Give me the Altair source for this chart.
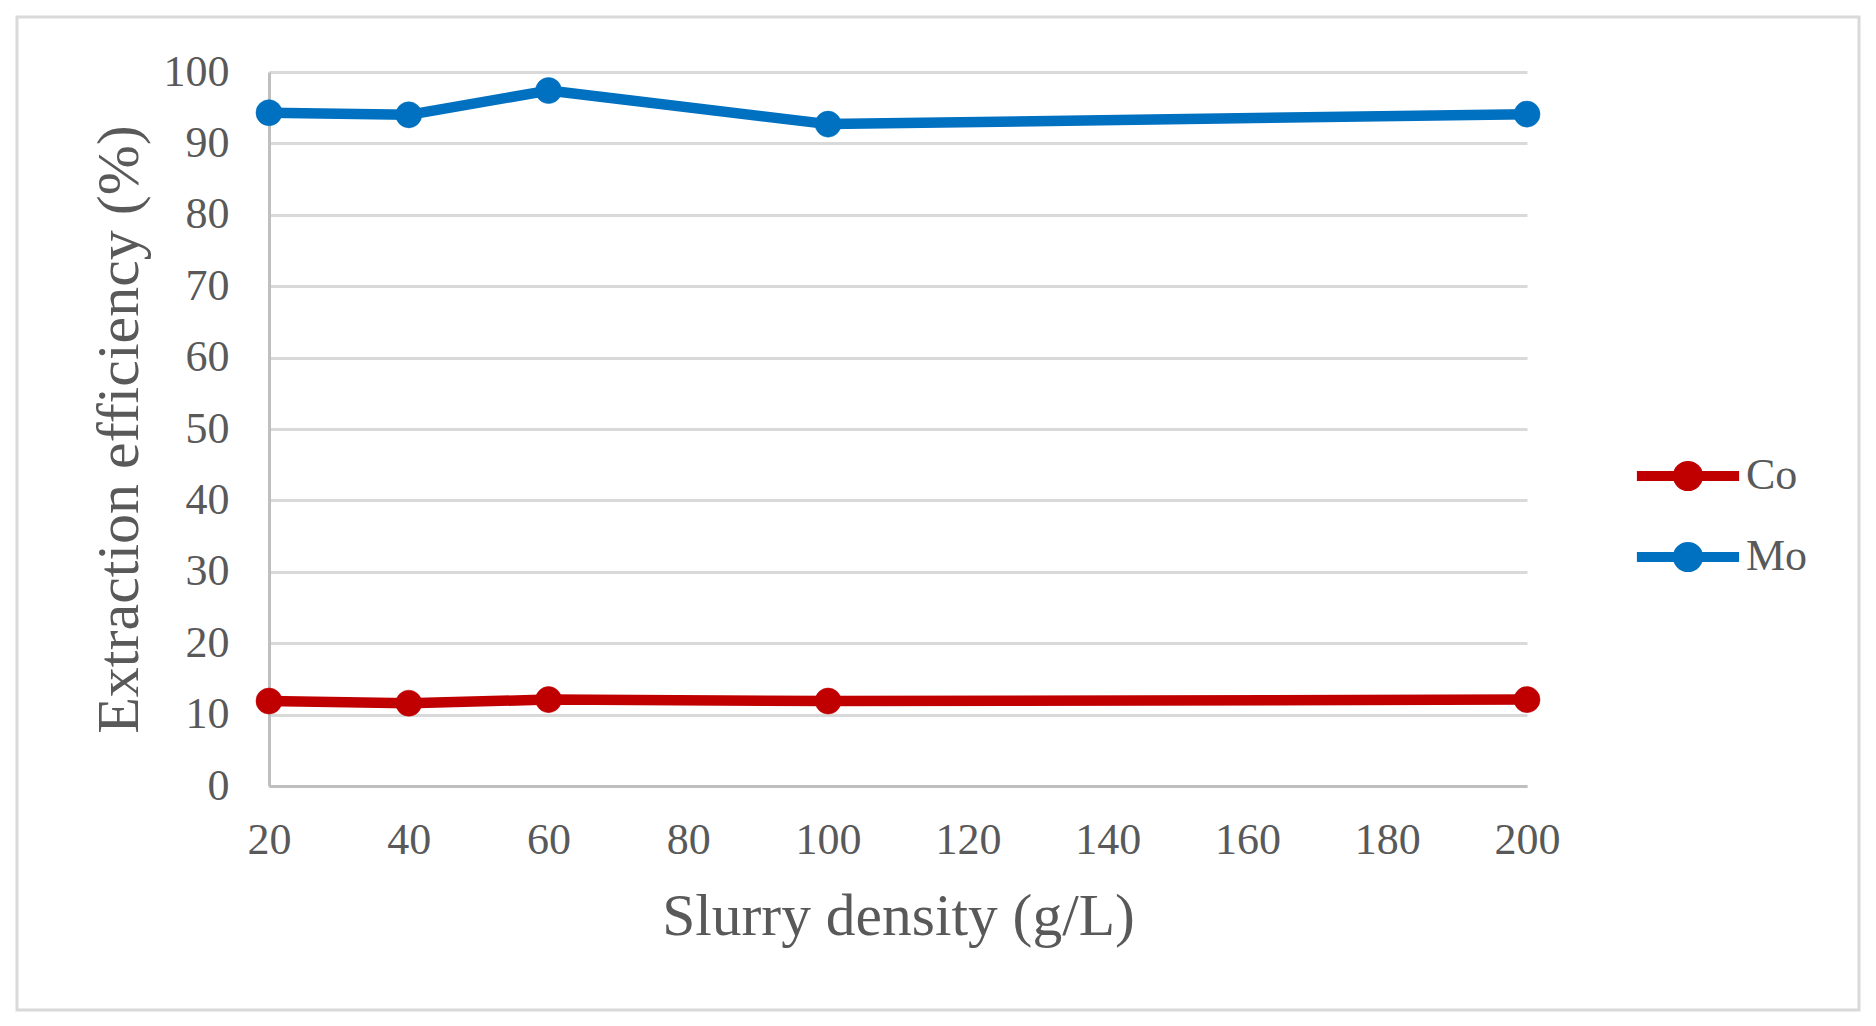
import altair as alt
import pandas as pd

# ---- data ----
slurry_density = [20, 40, 60, 100, 200]
co_values = [11.9, 11.6, 12.1, 11.9, 12.1]
mo_values = [94.3, 94.0, 97.4, 92.7, 94.1]
series_names = ["Co", "Mo"]
series_colors = ["#C00000", "#0070C0"]
x_ticks = [20, 40, 60, 80, 100, 120, 140, 160, 180, 200]
y_ticks = [0, 10, 20, 30, 40, 50, 60, 70, 80, 90, 100]

rows = []
for name, vals in zip(series_names, [co_values, mo_values]):
    for x, v in zip(slurry_density, vals):
        rows.append({"density": x, "value": v, "metal": name})
df = pd.DataFrame(rows)

FONT = "Liberation Serif"
TXT = "#595959"
PW, PH = 1258, 714

legend = alt.Legend(
    title=None,
    orient="none",
    legendX=1397,
    legendY=382,
    symbolType="M-3.65,0L3.65,0M0.72,0A0.72,0.72,0,1,1,-0.72,0A0.72,0.72,0,1,1,0.72,0Z",
    symbolSize=784,
    symbolStrokeWidth=10,
    symbolOpacity=1,
    labelFont=FONT,
    labelFontSize=44,
    labelColor=TXT,
    labelOffset=36,
    rowPadding=19,
    padding=0,
)
sc = alt.Scale(domain=series_names, range=series_colors)

x_enc = alt.X(
    "density:Q",
    scale=alt.Scale(domain=[20, 200], nice=False, zero=False),
    axis=alt.Axis(
        title="Slurry density (g/L)",
        values=x_ticks,
        grid=False,
        ticks=False,
        tickSize=0,
        labelPadding=32,
        labelFont=FONT,
        labelFontSize=44,
        labelColor=TXT,
        labelFlush=False,
        labelOverlap=False,
        domainColor="#BFBFBF",
        domainWidth=3,
        titleFont=FONT,
        titleFontSize=59.5,
        titleFontWeight="normal",
        titleColor=TXT,
        titleBaseline="alphabetic",
        titleX=PW / 2,
        titleY=148,
    ),
)

y_enc = alt.Y(
    "value:Q",
    scale=alt.Scale(domain=[0, 100], nice=False),
    axis=alt.Axis(
        title="Extraction efficiency (%)",
        values=y_ticks,
        grid=True,
        gridColor="#D9D9D9",
        gridWidth=3,
        ticks=False,
        tickSize=0,
        labelPadding=40,
        labelFont=FONT,
        labelFontSize=44,
        labelColor=TXT,
        labelOverlap=False,
        domainColor="#BFBFBF",
        domainWidth=3,
        titleFont=FONT,
        titleFontSize=60,
        titleFontWeight="normal",
        titleColor=TXT,
        titleAngle=270,
        titleAlign="center",
        titleBaseline="alphabetic",
        titleX=-132,
        titleY=PH / 2,
    ),
)

base = alt.Chart(df)

frame = alt.Chart(pd.DataFrame({"k": [0]})).mark_rect(
    fill="transparent", stroke="#D9D9D9", strokeWidth=3
).encode(
    x=alt.value(-252), x2=alt.value(1590), y=alt.value(-55), y2=alt.value(938)
)

lines = base.mark_line(strokeWidth=10.5, strokeCap="round", strokeJoin="round").encode(
    x=x_enc, y=y_enc, stroke=alt.Stroke("metal:N", scale=sc, legend=legend)
)
points = base.mark_circle(size=680, opacity=1, strokeWidth=0.5).encode(
    x="density:Q",
    y="value:Q",
    fill=alt.Fill("metal:N", scale=sc, legend=legend),
    stroke=alt.Stroke("metal:N", scale=sc, legend=legend),
)

chart = alt.layer(frame, lines, points).properties(
    width=PW,
    height=PH,
    background="white",
    autosize=alt.AutoSizeParams(type="none"),
    padding={"left": 261, "top": 64, "right": 336, "bottom": 227},
).configure_view(stroke=None)

chart.save("out.html", embed_options={"renderer": "svg", "actions": False})
